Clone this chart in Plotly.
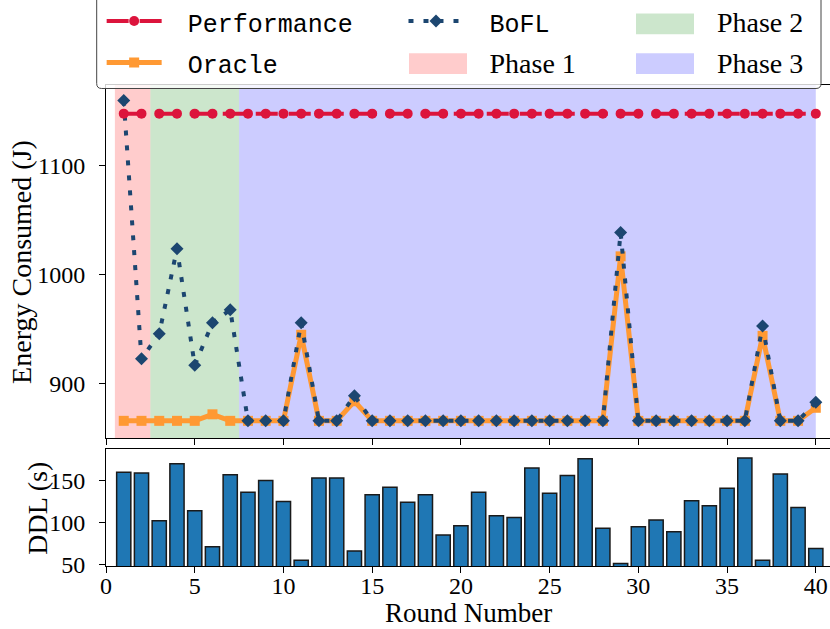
import plotly.graph_objects as go

# ---------------- data ----------------
rounds = list(range(1, 41))

performance = [1148, 1148, 1148, 1148, 1148, 1148, 1148, 1148, 1148, 1148,
               1148, 1148, 1148, 1148, 1148, 1148, 1148, 1148, 1148, 1148,
               1148, 1148, 1148, 1148, 1148, 1148, 1148, 1148, 1148, 1148,
               1148, 1148, 1148, 1148, 1148, 1148, 1148, 1148, 1148, 1148]

oracle = [866, 866, 866, 866, 866, 872, 866, 866, 866, 866,
          945, 866, 866, 884, 866, 866, 866, 866, 866, 866,
          866, 866, 866, 866, 866, 866, 866, 866, 1017, 866,
          866, 866, 866, 866, 866, 866, 944, 866, 866, 878]

bofl = [1160, 923, 946, 1024, 917, 956, 968, 866, 866, 866,
        956, 866, 866, 889, 866, 866, 866, 866, 866, 866,
        866, 866, 866, 866, 866, 866, 866, 866, 1039, 866,
        866, 866, 866, 866, 866, 866, 953, 866, 866, 883]

ddl = [160, 159, 102, 170, 114, 71, 157, 136, 150, 125,
       55, 153, 153, 66, 133, 142, 124, 133, 85, 96,
       136, 108, 106, 165, 135, 156, 176, 93, 51, 95,
       103, 89, 126, 120, 141, 177, 55, 158, 118, 69]

phase_names = ["Phase 1", "Phase 2", "Phase 3"]
phase_starts = [0.5, 2.5, 7.5]
phase_ends = [2.5, 7.5, 40.0]

x_ticks = [0, 5, 10, 15, 20, 25, 30, 35, 40]
energy_ticks = [900, 1000, 1100]
ddl_ticks = [50, 100, 150]

# ---------------- style ----------------
SERIF = "Liberation Serif"
MONO = "Liberation Mono"
RED = "#DC143C"
ORANGE = "#FF9933"
NAVY = "#1c4670"
BAR = "#1f77b4"
phase_colors = ["rgba(255,0,0,0.2)", "rgba(0,128,0,0.2)", "rgba(0,0,255,0.2)"]
phase_legends = ["legend2", "legend3", "legend3"]
phase_ranks = [2, 1, 2]
# legend swatch boxes in pixels (x0, x1, y0, y1)
phase_swatch_px = [(409, 467, 53.3, 74.0), (636, 694, 13.5, 34.3), (636, 694, 53.3, 74.0)]

SP = "\u00a0\u00a0\u00a0"

# pixel frame of the plotting area
L, T, PW, PH = 106, 85, 724, 481.3


def px2x(px):
    return (px - L) / PW


def px2y(py):
    return 1 - (py - T) / PH


def mono(s):
    return f'{SP}<span style="font-family:{MONO};font-size:25px">{s}</span>'


fig = go.Figure()

fig.add_trace(go.Scatter(
    x=rounds, y=oracle, name=mono("Oracle"), mode="lines+markers",
    line=dict(color=ORANGE, width=5),
    marker=dict(symbol="square", size=10, color=ORANGE),
    legend="legend", legendrank=2, legendgroup="o", xaxis="x", yaxis="y"))

fig.add_trace(go.Scatter(
    x=rounds, y=bofl, name=mono("BoFL"), mode="lines+markers",
    line=dict(color=NAVY, width=4, dash="5px,10px"),
    marker=dict(symbol="diamond", size=10, color=NAVY),
    legend="legend2", legendrank=1, legendgroup="b", xaxis="x", yaxis="y"))

fig.add_trace(go.Scatter(
    x=rounds, y=performance, name=mono("Performance"), mode="lines+markers",
    line=dict(color=RED, width=4, dash="22px,11px"),
    marker=dict(symbol="circle", size=10, color=RED),
    legend="legend", legendrank=1, legendgroup="p", xaxis="x", yaxis="y"))

fig.add_trace(go.Bar(
    x=rounds, y=ddl, width=0.8, showlegend=False,
    marker=dict(color=BAR, line=dict(color="#1a1a1a", width=1.5)),
    xaxis="x2", yaxis="y2"))

for nm, s, e, c, lg, rk in zip(phase_names, phase_starts, phase_ends,
                                phase_colors, phase_legends, phase_ranks):
    # shaded phase band
    fig.add_shape(type="rect", xref="x", yref="y domain", x0=s, x1=e, y0=0, y1=1,
                  fillcolor=c, line=dict(width=0), layer="below")
    # legend entry (text); the wide swatch is drawn below
    fig.add_trace(go.Scatter(
        x=[None], y=[None], mode="markers", name=SP + nm,
        marker=dict(color="rgba(0,0,0,0)", size=1),
        legend=lg, legendrank=rk, legendgroup=nm, xaxis="x", yaxis="y",
        hoverinfo="skip"))

# legend frame (rounded bottom corners)
bx0, bx1, by0, by1, r = 96.7, 821, -10, 88.5, 5
frame = (f"M{px2x(bx0)},{px2y(by0)} L{px2x(bx0)},{px2y(by1 - r)} "
         f"Q{px2x(bx0)},{px2y(by1)} {px2x(bx0 + r)},{px2y(by1)} "
         f"L{px2x(bx1 - r)},{px2y(by1)} "
         f"Q{px2x(bx1)},{px2y(by1)} {px2x(bx1)},{px2y(by1 - r)} "
         f"L{px2x(bx1)},{px2y(by0)} Z")
fig.add_shape(type="path", xref="paper", yref="paper", path=frame,
              fillcolor="rgba(255,255,255,0.8)", line=dict(color="#444", width=1),
              layer="above")
for c, sw in zip(phase_colors, phase_swatch_px):
    fig.add_shape(type="rect", xref="paper", yref="paper",
                  x0=px2x(sw[0]), x1=px2x(sw[1]), y0=px2y(sw[3]), y1=px2y(sw[2]),
                  fillcolor=c, line=dict(width=0), layer="above")

axis_common = dict(showline=True, linecolor="black", linewidth=1, ticks="outside",
                   ticklen=6, tickwidth=1, tickcolor="black", showgrid=False,
                   zeroline=False, tickfont=dict(family=SERIF, size=24, color="black"))

legend_common = dict(xanchor="left", yanchor="top", y=1.1844, orientation="v",
                     bgcolor="rgba(0,0,0,0)", borderwidth=0, itemwidth=55,
                     tracegroupgap=2,
                     font=dict(family=SERIF, size=28, color="black"))

title_font = dict(family=SERIF, size=28, color="black")

fig.update_layout(
    width=830, height=629,
    template="none",
    margin=dict(l=106, r=0, t=85, b=62.7, autoexpand=False),
    paper_bgcolor="white", plot_bgcolor="white",
    font=dict(family=SERIF, size=24, color="black"),
    xaxis=dict(domain=[0, 1], anchor="y", range=[0, 40.8], tickvals=x_ticks,
               showticklabels=False, mirror=True, **axis_common),
    yaxis=dict(domain=[0.266, 1], anchor="x", range=[850.2, 1174.3],
               tickvals=energy_ticks, ticklabelstandoff=9, **axis_common),
    xaxis2=dict(domain=[0, 1], anchor="y2", range=[0, 40.8], tickvals=x_ticks,
                mirror=True, ticklabelstandoff=-8, **axis_common),
    yaxis2=dict(domain=[0, 0.2437], anchor="x2", range=[48, 188], tickvals=ddl_ticks,
                ticklabelstandoff=9, **axis_common),
    legend=dict(x=-0.006, **legend_common),
    legend2=dict(x=0.4109, **legend_common),
    legend3=dict(x=0.7251, **legend_common),
    bargap=0.2,
    annotations=[
        dict(text="Energy Consumed (J)", xref="paper", yref="paper",
             x=px2x(22), y=px2y(262), textangle=-90, showarrow=False,
             xanchor="center", yanchor="middle", font=title_font),
        dict(text="DDL (s)", xref="paper", yref="paper",
             x=px2x(38), y=px2y(509), textangle=-90, showarrow=False,
             xanchor="center", yanchor="middle", font=title_font),
        dict(text="Round Number", xref="paper", yref="paper",
             x=px2x(468.5), y=px2y(613), showarrow=False,
             xanchor="center", yanchor="middle",
             font=dict(family=SERIF, size=27, color="black")),
    ],
)

fig.write_html("out.html", config={"displayModeBar": False},
               post_script="document.body.style.margin='0px';")
